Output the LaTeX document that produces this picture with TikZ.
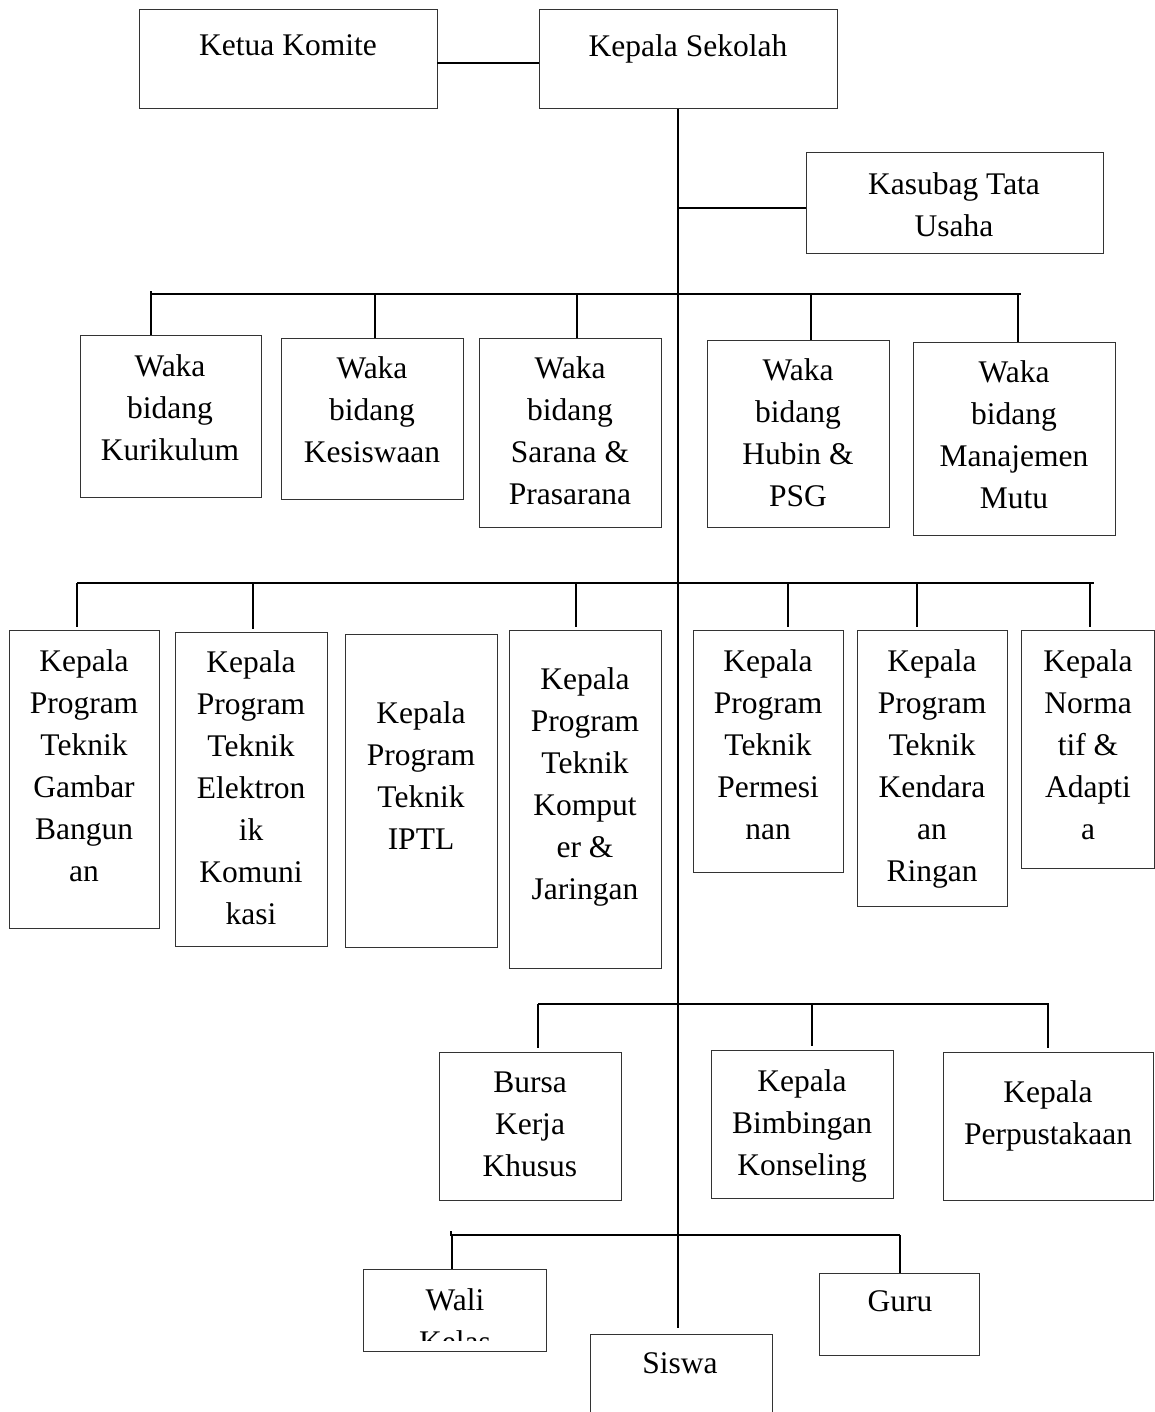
\documentclass[tikz,border=0pt]{standalone}
\usepackage{fontspec}
\setmainfont{Liberation Serif}
\tikzset{
  box/.style={draw=black!80, line width=0.5pt, inner sep=0pt, outer sep=0pt, anchor=north west},
  txt/.style={font=\fontsize{15.75}{21}\selectfont, align=center, inner sep=0pt, anchor=north},
  conn/.style={line width=1pt, draw=black}
}
\newcommand\obox[5]{\node[box, minimum width={(#4-#2)*0.5pt}, minimum height={(#5-#3)*0.5pt}] (#1) at (#2,#3) {};}
\newcommand\otxt[4]{\node[txt] (#1) at (#2,#3) {#4};}
\begin{document}
\begin{tikzpicture}[x=0.5pt,y=-0.5pt]
\useasboundingbox (0,0) rectangle (1155,1412);
\clip (0,0) rectangle (1155,1412);
% top
\obox{ketua}{139}{10}{437}{109}
\otxt{ketuaT}{288}{34}{Ketua Komite}
\obox{kepsek}{539}{10}{837}{109}
\otxt{kepsekT}{688}{34}{Kepala Sekolah}
\obox{kasubag}{806}{153}{1103}{253}
\otxt{kasubagT}{954}{172}{Kasubag Tata\\Usaha}
% waka
\obox{w1}{80}{335}{261}{497}
\otxt{w1T}{170}{354}{Waka\\bidang\\Kurikulum}
\obox{w2}{281}{338}{463}{499}
\otxt{w2T}{372}{356}{Waka\\bidang\\Kesiswaan}
\obox{w3}{479}{338}{661}{527}
\otxt{w3T}{570}{356}{Waka\\bidang\\Sarana \&\\Prasarana}
\obox{w4}{707}{340}{889}{527}
\otxt{w4T}{798}{358}{Waka\\bidang\\Hubin \&\\PSG}
\obox{w5}{913}{342}{1115}{535}
\otxt{w5T}{1014}{360}{Waka\\bidang\\Manajemen\\Mutu}
% program
\obox{p1}{9}{630}{159}{928}
\otxt{p1T}{84}{649}{Kepala\\Program\\Teknik\\Gambar\\Bangun\\an}
\obox{p2}{175}{632}{327}{946}
\otxt{p2T}{251}{650}{Kepala\\Program\\Teknik\\Elektron\\ik\\Komuni\\kasi}
\obox{p3}{345}{634}{497}{947}
\otxt{p3T}{421}{701}{Kepala\\Program\\Teknik\\IPTL}
\obox{p4}{509}{630}{661}{968}
\otxt{p4T}{585}{667}{Kepala\\Program\\Teknik\\Komput\\er \&\\Jaringan}
\obox{p5}{693}{630}{843}{872}
\otxt{p5T}{768}{649}{Kepala\\Program\\Teknik\\Permesi\\nan}
\obox{p6}{857}{630}{1007}{906}
\otxt{p6T}{932}{649}{Kepala\\Program\\Teknik\\Kendara\\an\\Ringan}
\obox{p7}{1021}{630}{1154}{868}
\otxt{p7T}{1088}{649}{Kepala\\Norma\\tif \&\\Adapti\\a}
% lower
\obox{b1}{439}{1052}{621}{1200}
\otxt{b1T}{530}{1071}{Bursa\\Kerja\\Khusus}
\obox{b2}{711}{1050}{893}{1198}
\otxt{b2T}{802}{1069}{Kepala\\Bimbingan\\Konseling}
\obox{b3}{943}{1052}{1153}{1200}
\otxt{b3T}{1048}{1080}{Kepala\\Perpustakaan}
\obox{wali}{363}{1269}{546}{1351}
\begin{scope}
\clip (363,1269) rectangle (546,1340);
\otxt{waliT}{455}{1288}{Wali\\Kelas}
\end{scope}
\obox{siswa}{590}{1334}{772}{1460}
\otxt{siswaT}{680}{1352}{Siswa}
\obox{guru}{819}{1273}{979}{1355}
\otxt{guruT}{900}{1290}{Guru}
% connectors
\coordinate (tx) at (678,0);
\draw[conn] ([yshift=-1.75pt]ketua.east) -- ([yshift=-1.75pt]kepsek.west);
\draw[conn] (tx |- kepsek.south) -- ([yshift=3pt]tx |- siswa.north);
\draw[conn] ([yshift=-2.5pt]tx |- kasubag.west) -- ([yshift=-2.5pt]kasubag.west);
% waka bus
\coordinate (wbL) at (151,294);
\coordinate (wbR) at (1021,294);
\draw[conn] ([yshift=1.5pt]wbL) -- (wbL) -- (wbR);
\foreach \x/\n in {151/w1,375/w2,577/w3,811/w4,1018/w5}{
  \coordinate (dw) at (\x,294);
  \draw[conn] (dw) -- (dw |- \n.north);
}
% program bus
\coordinate (pbL) at (77,583);
\coordinate (pbR) at (1094,583);
\draw[conn] (pbL) -- (pbR);
\foreach \x/\n in {77/p1,253/p2,576/p4,788/p5,917/p6,1090/p7}{
  \coordinate (dp) at (\x,583);
  \draw[conn] (dp) -- ([yshift=1.5pt]dp |- \n.north);
}
% third bus
\coordinate (bbL) at (538,1004);
\coordinate (bbR) at (1049,1004);
\draw[conn] (bbL) -- (bbR);
\foreach \x/\n in {538/b1,812/b2,1048/b3}{
  \coordinate (db) at (\x,1004);
  \draw[conn] (db) -- ([yshift=2pt]db |- \n.north);
}
% fourth bus
\coordinate (gbL) at (451,1235);
\coordinate (gbR) at (900,1235);
\draw[conn] ([yshift=2pt]gbL) -- (gbL) -- (gbR);
\foreach \x/\n in {452/wali,900/guru}{
  \coordinate (dg) at (\x,1235);
  \draw[conn] (dg) -- (dg |- \n.north);
}
\end{tikzpicture}
\end{document}
